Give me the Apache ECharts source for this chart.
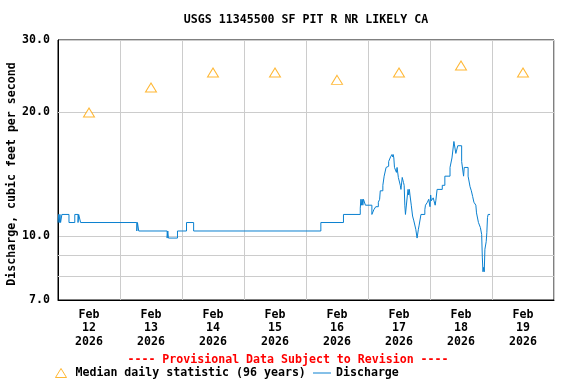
<!DOCTYPE html>
<html><head><meta charset="utf-8">
<script src="https://cdn.jsdelivr.net/npm/echarts@6/dist/echarts.min.js"></script>
<style>html,body{margin:0;padding:0;background:#fff}#c{width:576px;height:384px}</style>
</head><body><div id="c"></div>
<script>
const chartTitle = 'USGS 11345500 SF PIT R NR LIKELY CA';
const yAxisName = 'Discharge, cubic feet per second';
const provisionalNote = '---- Provisional Data Subject to Revision ----';
const medianName = 'Median daily statistic (96 years)';
const dischargeName = 'Discharge';
const dayLabels = ['Feb\n12\n2026','Feb\n13\n2026','Feb\n14\n2026','Feb\n15\n2026','Feb\n16\n2026','Feb\n17\n2026','Feb\n18\n2026','Feb\n19\n2026'];
const medianValues = [20, 23, 25, 25, 24, 25, 26, 25];
const xStart = '2026-02-12 00:00';
const xEnd = '2026-02-20 00:00';
const yMin = 7, yMax = 30;
const extraGridValues = [8, 9, 20];
const labeledExtra = 20;

const dischargeTimes = [
 '2026-02-12 00:00','2026-02-12 00:15','2026-02-12 00:30','2026-02-12 00:45','2026-02-12 01:00','2026-02-12 01:30',
 '2026-02-12 04:15','2026-02-12 06:30','2026-02-12 07:45','2026-02-12 08:00','2026-02-12 08:45',
 '2026-02-13 06:30','2026-02-13 06:45','2026-02-13 07:15','2026-02-13 18:15','2026-02-13 18:30','2026-02-13 18:45',
 '2026-02-13 22:15','2026-02-14 01:45','2026-02-14 04:30',
 '2026-02-16 05:45','2026-02-16 14:30','2026-02-16 21:00','2026-02-16 21:15','2026-02-16 21:30','2026-02-16 21:45',
 '2026-02-16 22:00','2026-02-16 22:15','2026-02-16 23:00',
 '2026-02-17 01:30','2026-02-17 02:15','2026-02-17 03:00','2026-02-17 04:00','2026-02-17 04:30','2026-02-17 04:45',
 '2026-02-17 05:45','2026-02-17 06:15','2026-02-17 07:00','2026-02-17 07:30','2026-02-17 08:00','2026-02-17 08:30',
 '2026-02-17 08:45','2026-02-17 09:15','2026-02-17 09:30','2026-02-17 09:45','2026-02-17 10:00','2026-02-17 10:15',
 '2026-02-17 10:45','2026-02-17 11:00','2026-02-17 11:15','2026-02-17 11:45','2026-02-17 12:30','2026-02-17 12:45',
 '2026-02-17 13:15','2026-02-17 13:45','2026-02-17 14:00','2026-02-17 14:15','2026-02-17 14:30','2026-02-17 15:15',
 '2026-02-17 15:30','2026-02-17 15:45','2026-02-17 16:00','2026-02-17 16:15','2026-02-17 16:45','2026-02-17 17:15',
 '2026-02-17 17:45','2026-02-17 18:00','2026-02-17 18:30','2026-02-17 19:00','2026-02-17 19:30','2026-02-17 19:45',
 '2026-02-17 20:30','2026-02-17 22:00','2026-02-17 22:15','2026-02-17 23:00','2026-02-17 23:30',
 '2026-02-18 00:00','2026-02-18 00:15','2026-02-18 00:30','2026-02-18 01:15','2026-02-18 02:00','2026-02-18 02:15',
 '2026-02-18 02:45','2026-02-18 04:45','2026-02-18 05:45','2026-02-18 07:45','2026-02-18 08:30','2026-02-18 09:15',
 '2026-02-18 09:30','2026-02-18 10:00','2026-02-18 10:45','2026-02-18 12:15','2026-02-18 13:00','2026-02-18 13:15',
 '2026-02-18 14:45','2026-02-18 15:30','2026-02-18 16:00','2026-02-18 16:30','2026-02-18 17:00','2026-02-18 17:45',
 '2026-02-18 18:00','2026-02-18 18:45','2026-02-18 19:30','2026-02-18 19:45','2026-02-18 20:00','2026-02-18 20:15',
 '2026-02-18 20:30','2026-02-18 20:45','2026-02-18 21:00','2026-02-18 21:15','2026-02-18 21:45','2026-02-18 22:00',
 '2026-02-18 22:15','2026-02-18 22:30','2026-02-18 23:15'
];
const dischargeValues = [
 10.8,11.3,10.8,11.3,10.8,11.3,
 10.8,11.3,10.8,11.3,10.8,
 10.3,10.8,10.3,9.9,10.3,9.9,
 10.3,10.8,10.3,
 10.8,11.3,11.7,12.3,11.9,12.3,
 11.9,12.3,11.9,
 11.3,11.6,11.8,12.1,12.3,12.9,
 13.3,14.0,14.7,14.8,15.2,15.3,
 15.6,15.8,15.6,15.8,15.5,14.7,
 14.6,14.3,14.7,13.9,13.3,13.0,
 13.9,13.5,13.3,11.9,11.3,12.6,
 13.0,12.6,13.0,12.6,11.9,11.2,
 10.9,10.8,10.4,9.9,10.4,10.6,
 11.3,11.6,11.9,12.1,12.3,
 11.8,12.6,12.2,12.4,11.9,12.2,
 13.0,13.3,14.0,14.7,15.5,17.0,
 17.1,15.9,16.6,15.2,14.0,14.7,
 14.0,13.2,12.9,12.5,12.1,11.9,
 11.4,10.8,10.5,10.3,10.1,8.9,
 8.2,8.4,8.2,9.3,9.7,10.2,
 11.1,11.3,11.3
];

const FONT = 'DejaVu Sans Mono';
const FS = 11.6;
const txt = {fontFamily: FONT, fontSize: FS, fontWeight: 'bold', color: '#000'};
const ORANGE = '#ffa500';
const BLUE = '#0a80d0';

const chart = echarts.init(document.getElementById('c'), null, {renderer: 'canvas'});
chart.setOption({
  animation: false,
  backgroundColor: '#fff',
  title: {text: chartTitle, left: 306, top: 14, padding: 0, textAlign: 'center',
    textStyle: Object.assign({}, txt)},
  legend: [
    {data: [{name: medianName, icon: 'triangle'}], left: 55, top: 367, padding: 0, itemWidth: 11, itemHeight: 9, itemGap: 0,
      itemStyle: {color: '#fff', borderColor: ORANGE, borderWidth: 1},
      textStyle: Object.assign({padding: [0, 0, 0, 4]}, txt), selectedMode: false},
    {data: [{name: dischargeName, icon: 'rect'}], left: 313, top: 367, padding: 0, itemWidth: 18, itemHeight: 1,
      itemStyle: {color: BLUE, borderWidth: 0},
      textStyle: Object.assign({}, txt), selectedMode: false}
  ],
  graphic: [{type: 'text', left: 'center', top: 354,
    style: {text: provisionalNote, fill: '#ff0000', font: 'bold ' + FS + 'px "' + FONT + '"'}}],
  grid: {left: 58, right: 22, top: 40, bottom: 84, containLabel: false, outerBoundsMode: 'none',
    show: true, borderColor: '#000', borderWidth: 1, backgroundColor: 'transparent'},
  xAxis: [
    {type: 'category', data: dayLabels, boundaryGap: true,
      axisLine: {show: true, lineStyle: {color: '#000'}}, axisTick: {show: false},
      splitLine: {show: true, interval: 0, lineStyle: {color: '#cccccc', width: 1}},
      axisLabel: Object.assign({interval: 0, margin: 8, lineHeight: 13.5}, txt)},
    {type: 'time', min: xStart, max: xEnd, show: false}
  ],
  yAxis: {type: 'log', logBase: 10, min: yMin, max: yMax,
    axisLine: {show: true, lineStyle: {color: '#000'}}, axisTick: {show: false},
    splitLine: {show: true, lineStyle: {color: '#cccccc', width: 1}},
    axisLabel: Object.assign({margin: 8, showMinLabel: true, showMaxLabel: true,
      formatter: v => Number(v).toFixed(1)}, txt),
    name: yAxisName, nameLocation: 'middle', nameGap: 40, nameRotate: 90, nameMoveOverlap: false,
    nameTextStyle: Object.assign({padding: [0, 8, 0, 0]}, txt)},
  series: [
    {type: 'scatter', name: medianName, xAxisIndex: 0, data: medianValues,
      symbol: 'triangle', symbolSize: [11, 9], z: 3,
      itemStyle: {color: '#fff', borderColor: ORANGE, borderWidth: 1},
      markLine: {silent: true, symbol: 'none', z: 1, animation: false,
        lineStyle: {color: '#cccccc', width: 1, type: 'solid'},
        data: extraGridValues.map(v => ({yAxis: v, label: v === labeledExtra ?
          Object.assign({show: true, position: 'start', distance: 8, formatter: Number(v).toFixed(1)}, txt) : {show: false}}))}},
    {type: 'line', name: dischargeName, xAxisIndex: 1, step: 'end', showSymbol: false, symbol: 'none',
      data: dischargeTimes.map((t, i) => [t, dischargeValues[i]]), z: 2,
      color: BLUE, lineStyle: {color: BLUE, width: 1}}
  ]
});
</script></body></html>
